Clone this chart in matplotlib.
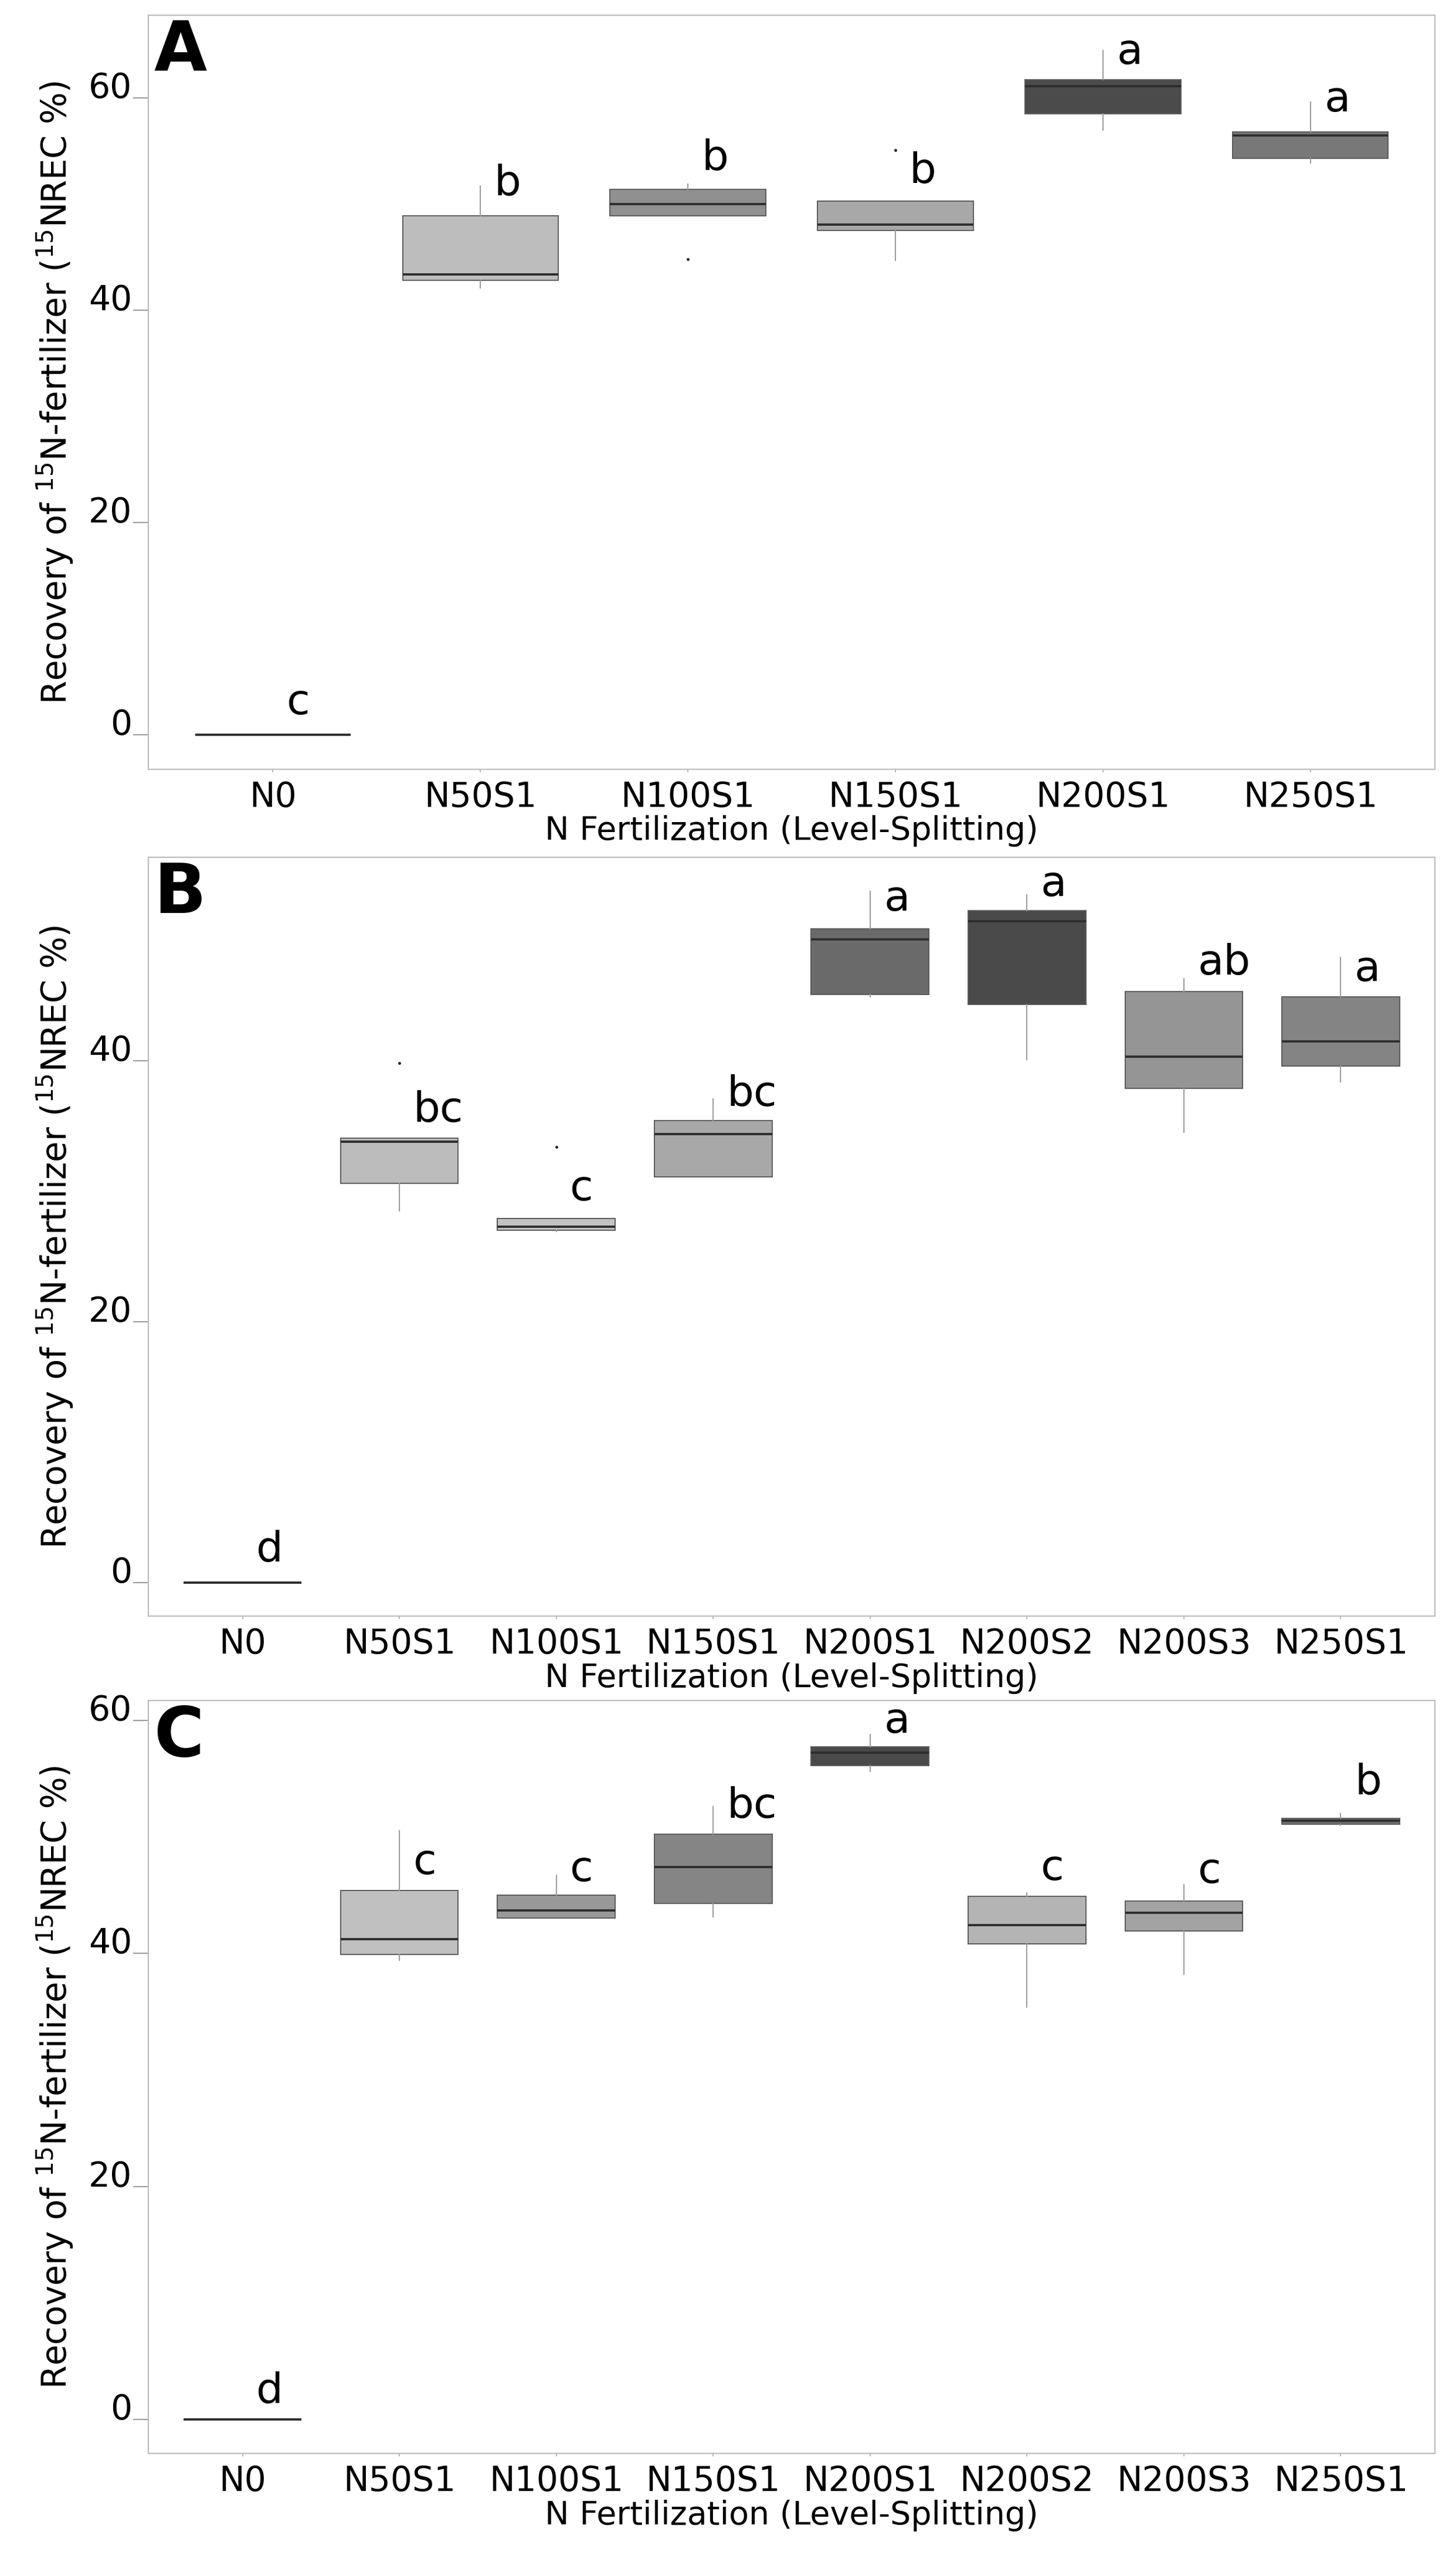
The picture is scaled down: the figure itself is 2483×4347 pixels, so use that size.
import numpy as np
import matplotlib
matplotlib.use('Agg')
import matplotlib.pyplot as plt

plt.rcParams['font.family'] = ['DejaVu Sans']
plt.rcParams['mathtext.default'] = 'regular'

# ---- panel A
labels_a = ['N0', 'N50S1', 'N100S1', 'N150S1', 'N200S1', 'N250S1']
whislo_a = [0, 42.1, 48.9, 44.7, 57.0, 53.9]
q1_a = [0, 42.8, 48.9, 47.5, 58.5, 54.3]
med_a = [0, 43.4, 50.0, 48.1, 61.1, 56.5]
q3_a = [0, 48.9, 51.4, 50.3, 61.7, 56.8]
whishi_a = [0, 51.7, 51.9, 50.3, 64.5, 59.6]
fliers_a = [[], [], [44.8], [55.1], [], []]
colors_a = ['#808080', '#bdbdbd', '#909090', '#a8a8a8', '#4b4b4b', '#787878']
letters_a = ['c', 'b', 'b', 'b', 'a', 'a']
letter_y_a = [3.0, 51.9, 54.3, 53.1, 64.3, 59.8]

# ---- panel B
labels_b = ['N0', 'N50S1', 'N100S1', 'N150S1', 'N200S1', 'N200S2', 'N200S3', 'N250S1']
whislo_b = [0, 28.5, 26.9, 31.1, 44.9, 40.1, 34.5, 38.4]
q1_b = [0, 30.6, 27.0, 31.1, 45.1, 44.3, 37.9, 39.6]
med_b = [0, 33.8, 27.3, 34.4, 49.3, 50.7, 40.3, 41.5]
q3_b = [0, 34.05, 27.9, 35.4, 50.1, 51.5, 45.3, 44.9]
whishi_b = [0, 34.05, 27.9, 37.1, 53.0, 52.7, 46.3, 47.9]
fliers_b = [[], [39.8], [33.4], [], [], [], [], []]
colors_b = ['#808080', '#bcbcbc', '#c2c2c2', '#a8a8a8', '#6a6a6a', '#4a4a4a', '#959595', '#848484']
letters_b = ['d', 'bc', 'c', 'bc', 'a', 'a', 'ab', 'a']
letter_y_b = [2.5, 36.2, 30.2, 37.4, 52.4, 53.5, 47.5, 47.0]

# ---- panel C
labels_c = ['N0', 'N50S1', 'N100S1', 'N150S1', 'N200S1', 'N200S2', 'N200S3', 'N250S1']
whislo_c = [0, 39.4, 43.0, 43.1, 55.6, 35.4, 38.2, 51.0]
q1_c = [0, 39.9, 43.0, 44.3, 56.1, 40.8, 41.9, 51.1]
med_c = [0, 41.2, 43.7, 47.4, 57.2, 42.4, 43.5, 51.4]
q3_c = [0, 45.4, 45.0, 50.2, 57.7, 44.9, 44.5, 51.6]
whishi_c = [0, 50.5, 46.7, 52.6, 58.8, 45.2, 45.9, 52.0]
fliers_c = [[], [], [], [], [], [], [], []]
colors_c = ['#808080', '#c0c0c0', '#999999', '#858585', '#4a4a4a', '#b4b4b4', '#a3a3a3', '#6e6e6e']
letters_c = ['d', 'c', 'c', 'bc', 'a', 'c', 'c', 'b']
letter_y_c = [2.4, 47.8, 47.2, 52.6, 59.9, 47.3, 47.0, 54.6]

ylab = 'Recovery of $^{15}$N-fertilizer ($^{15}$NREC %)'
xlab = 'N Fertilization (Level-Splitting)'


def draw_panel(ax, labels, whislo, q1, med, q3, whishi, fliers, colors,
               letters, letter_y, ylim, yticks, tag):
    stats = []
    for i in range(len(labels)):
        stats.append(dict(label=labels[i], whislo=whislo[i], q1=q1[i], med=med[i],
                          q3=q3[i], whishi=whishi[i], fliers=fliers[i]))
    pos = np.arange(len(labels))
    bp = ax.bxp(stats, positions=pos, widths=0.75, patch_artist=True, showcaps=False,
                boxprops=dict(edgecolor='#5c5c5c', linewidth=1.4),
                medianprops=dict(color='#2e2e2e', linewidth=2.8),
                whiskerprops=dict(color='#9a9a9a', linewidth=1.4),
                flierprops=dict(marker='o', markersize=2.5, markerfacecolor='#222222',
                                markeredgecolor='#222222'))
    for patch, c in zip(bp['boxes'], colors):
        patch.set_facecolor(c)

    for i in range(len(labels)):
        ax.annotate(letters[i], xy=(pos[i], letter_y[i]), xytext=(17, 0),
                    textcoords='offset points', ha='left', va='center', fontsize=52)

    ax.set_xlim(-0.6, len(labels) - 0.4)
    ax.set_ylim(*ylim)
    ax.set_yticks(yticks)
    ax.set_yticklabels([str(t) for t in yticks])
    for lab in ax.get_yticklabels():
        lab.set_verticalalignment('baseline')
    ax.tick_params(axis='y', length=19, width=1.2, color='#888888', pad=1, labelsize=42)
    ax.tick_params(axis='x', length=3.5, width=1.2, color='#aaaaaa', pad=10, labelsize=42)
    for s in ax.spines.values():
        s.set_color('#bdbdbd')
        s.set_linewidth(1.6)

    ax.set_ylabel(ylab, fontsize=41.5)
    ax.yaxis.set_label_coords(-0.057, 0.5)
    ax.set_xlabel(xlab, fontsize=40, labelpad=2)

    ax.annotate(tag, xy=(0, 1), xycoords='axes fraction', xytext=(7, -4),
                textcoords='offset points', ha='left', va='top',
                fontsize=84, fontweight='bold')


fig = plt.figure(figsize=(24.83, 43.47), dpi=100)
ax_a = fig.add_axes([0.1019, 0.6982, 0.8836, 0.2958])
ax_b = fig.add_axes([0.1019, 0.3660, 0.8836, 0.2977])
ax_c = fig.add_axes([0.1019, 0.0375, 0.8836, 0.2954])

draw_panel(ax_a, labels_a, whislo_a, q1_a, med_a, q3_a, whishi_a, fliers_a, colors_a,
           letters_a, letter_y_a, (-3.26, 67.8), [0, 20, 40, 60], 'A')
draw_panel(ax_b, labels_b, whislo_b, q1_b, med_b, q3_b, whishi_b, fliers_b, colors_b,
           letters_b, letter_y_b, (-2.56, 55.6), [0, 20, 40], 'B')
draw_panel(ax_c, labels_c, whislo_c, q1_c, med_c, q3_c, whishi_c, fliers_c, colors_c,
           letters_c, letter_y_c, (-2.92, 61.7), [0, 20, 40, 60], 'C')

fig.savefig('out.png', dpi=100, facecolor='white')
